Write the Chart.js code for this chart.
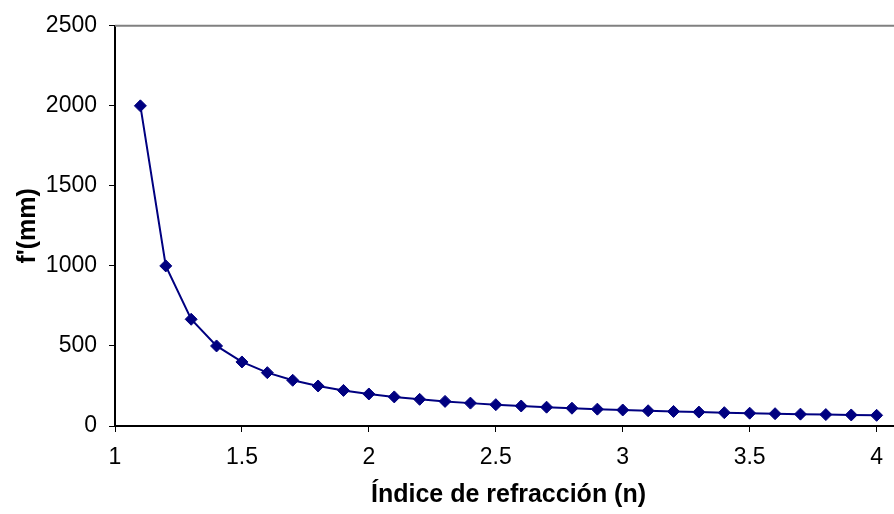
<!DOCTYPE html>
<html>
<head>
<meta charset="utf-8">
<script src="https://cdn.jsdelivr.net/npm/chart.js@4"></script>
<style>
    html, body { margin: 0; padding: 0; background: #fff; overflow: hidden; }
    #wrap { width: 902px; height: 514px; }
</style>
</head>
<body>
<div id="wrap"><canvas id="focalChart" width="902" height="514"></canvas></div>
<script>
// índice de refracción (n) y distancia focal f' (mm)
const indices = [1.1, 1.2, 1.3, 1.4, 1.5, 1.6, 1.7, 1.8, 1.9, 2.0,
                 2.1, 2.2, 2.3, 2.4, 2.5, 2.6, 2.7, 2.8, 2.9, 3.0,
                 3.1, 3.2, 3.3, 3.4, 3.5, 3.6, 3.7, 3.8, 3.9, 4.0];
const focales = [2000, 1000, 666.7, 500, 400, 333.3, 285.7, 250, 222.2, 200,
                 181.8, 166.7, 153.8, 142.9, 133.3, 125, 117.6, 111.1, 105.3, 100,
                 95.2, 90.9, 87, 83.3, 80, 76.9, 74.1, 71.4, 69, 66.7];
const xTicks = [1, 1.5, 2, 2.5, 3, 3.5, 4];
const yTicks = [0, 500, 1000, 1500, 2000, 2500];

document.addEventListener('DOMContentLoaded', function () {
    const ctx = document.getElementById('focalChart').getContext('2d');
    const font = 'Liberation Sans, Arial, sans-serif';

    // línea gris del borde superior del área de trazado
    const topBorder = {
        id: 'topBorder',
        beforeDatasetsDraw(chart) {
            const { ctx, chartArea } = chart;
            ctx.save();
            ctx.strokeStyle = '#808080';
            ctx.lineWidth = 2;
            ctx.beginPath();
            ctx.moveTo(chartArea.left, chartArea.top);
            ctx.lineTo(chartArea.right, chartArea.top);
            ctx.stroke();
            ctx.restore();
        }
    };

    new Chart(ctx, {
        type: 'line',
        data: {
            datasets: [{
                data: indices.map((n, i) => ({ x: n, y: focales[i] })),
                borderColor: '#000080',
                backgroundColor: '#000080',
                borderWidth: 2,
                pointStyle: 'rectRot',
                pointRadius: 6,
                pointBorderWidth: 1,
                pointBackgroundColor: '#000080',
                pointBorderColor: '#000080',
                tension: 0,
                fill: false
            }]
        },
        options: {
            responsive: false,
            animation: false,
            layout: { autoPadding: false, padding: { top: 22, right: 0, bottom: 0, left: 0 } },
            plugins: {
                legend: { display: false },
                tooltip: { enabled: false }
            },
            scales: {
                x: {
                    type: 'linear',
                    min: 1,
                    max: 4.1,
                    afterBuildTicks: (axis) => { axis.ticks = xTicks.map(v => ({ value: v })); },
                    afterFit: (axis) => { axis.height = 88; },
                    grid: { drawOnChartArea: false, drawTicks: true, tickLength: 6, color: '#000', lineWidth: 1 },
                    border: { color: '#000', width: 2 },
                    ticks: {
                        color: '#000',
                        padding: 12,
                        font: { family: font, size: 23 },
                        callback: (v) => String(v)
                    },
                    title: {
                        display: true,
                        text: 'Índice de refracción (n)',
                        color: '#000',
                        padding: { top: 0, bottom: 4 },
                        font: { family: font, size: 25, weight: 'bold' }
                    }
                },
                y: {
                    min: 0,
                    max: 2500,
                    afterBuildTicks: (axis) => { axis.ticks = yTicks.map(v => ({ value: v })); },
                    afterFit: (axis) => { axis.width = 115; },
                    grid: { drawOnChartArea: false, drawTicks: true, tickLength: 6, color: '#000', lineWidth: 1 },
                    border: { color: '#000', width: 2 },
                    ticks: {
                        color: '#000',
                        padding: 12,
                        font: { family: font, size: 23 },
                        callback: (v) => String(v)
                    },
                    title: {
                        display: true,
                        text: "f'(mm)",
                        color: '#000',
                        padding: { top: 13, bottom: 0 },
                        font: { family: font, size: 25, weight: 'bold' }
                    }
                }
            }
        },
        plugins: [topBorder]
    });
});
</script>
</body>
</html>
